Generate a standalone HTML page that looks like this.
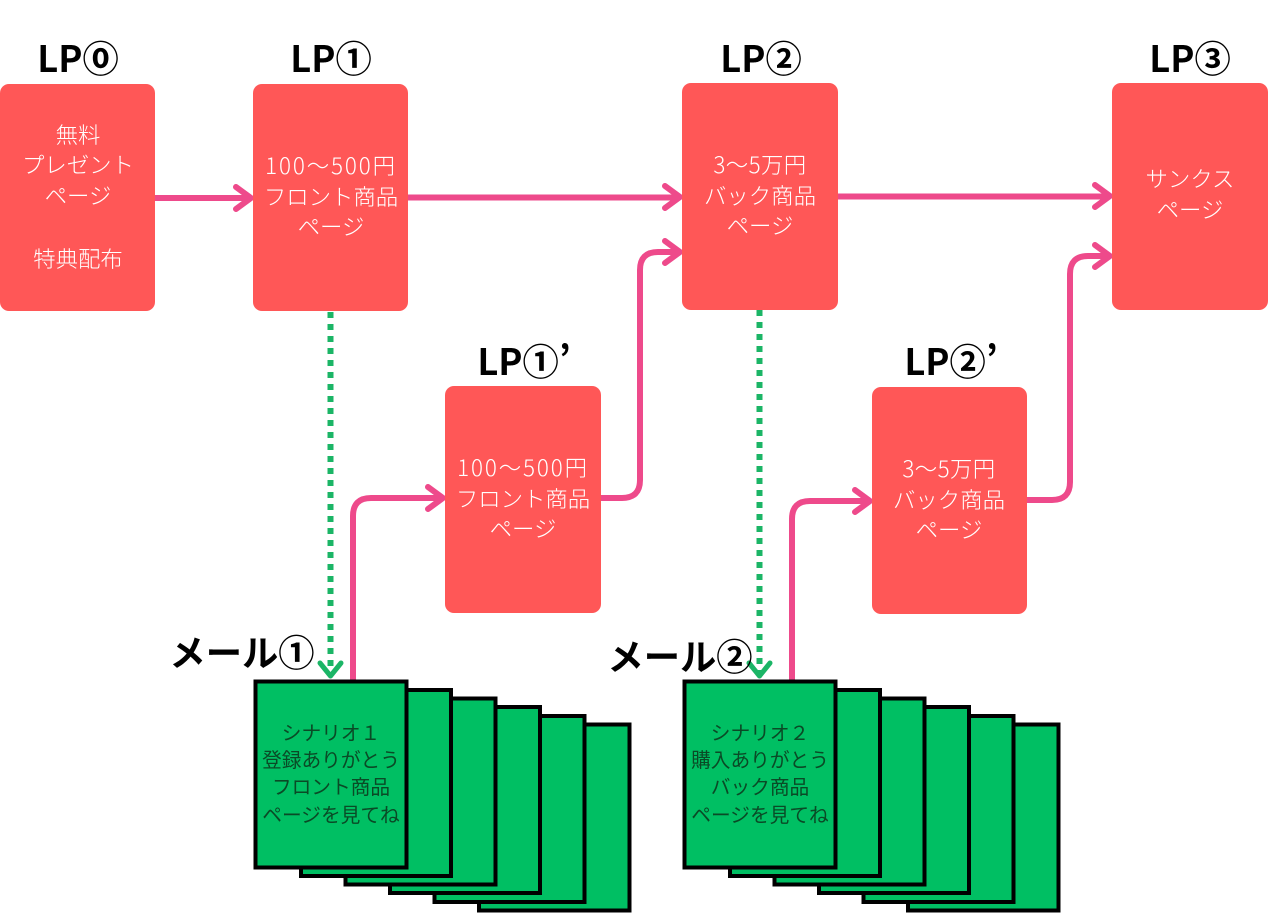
<!DOCTYPE html>
<html lang="ja"><head><meta charset="utf-8"><style>
html,body{margin:0;padding:0;background:#fff;width:1268px;height:914px;overflow:hidden}
svg{display:block}
text{font-family:"Liberation Sans","Noto Sans CJK JP",sans-serif;text-anchor:middle}
.t{font-family:"Noto Sans CJK JP",sans-serif;font-weight:700;font-size:36.300px;fill:#000}
.r{font-family:"Noto Sans CJK JP",sans-serif;font-weight:300;font-size:22.400px;fill:#fff}
.n{letter-spacing:1.900px}
.m{letter-spacing:.4px}
.g{font-family:"Noto Sans CJK JP",sans-serif;font-weight:400;font-size:19.700px;fill:#0a4a26}
.b{fill:#ff5757}
.c{fill:#00bf63;stroke:#000;stroke-width:4}
.p{fill:none;stroke:#ee4a8b;stroke-width:6;stroke-linecap:round;stroke-linejoin:round}
.d{fill:none;stroke:#1bb566;stroke-width:6;stroke-dasharray:6 6}
.a{fill:none;stroke:#1bb566;stroke-width:5;stroke-linecap:round;stroke-linejoin:round}
</style></head><body>
<svg width="1268" height="914" viewBox="0 0 1268 914" xmlns="http://www.w3.org/2000/svg">
<rect width="1268" height="914" fill="#fff"/>

<!-- connectors -->
<path class="p" d="M155 198H250M236 187L251 198L236 209"/>
<path class="p" d="M408 197.500H679M665 186L680 197L665 208"/>
<path class="p" d="M838 196.500H1109M1095 185L1110 196L1095 207"/>
<path class="p" d="M601 498H622Q640 498 640 480V270Q640 252 658 252H679M665 241L680 252L665 263"/>
<path class="p" d="M1027 500H1052Q1070 500 1070 482V274Q1070 256 1088 256H1109M1095 245L1110 256L1095 267"/>
<path class="p" d="M353 680V516Q353 498 371 498H442M428 487L443 498L428 509"/>
<path class="p" d="M792 680V519Q792 501 810 501H869M855 490L870 501L855 512"/>
<path class="d" d="M330.500 312V672"/>
<path class="d" d="M759.500 310V672"/>
<path class="a" d="M320 663L330.500 676L341 663"/>
<path class="a" d="M749 663L759.500 676L770 663"/>

<!-- red boxes -->
<rect class="b" x="0" y="84" width="155" height="227" rx="9"/>
<rect class="b" x="253" y="84" width="155" height="227" rx="9"/>
<rect class="b" x="682" y="83" width="156" height="227" rx="9"/>
<rect class="b" x="1112" y="83" width="156" height="227" rx="9"/>
<rect class="b" x="445" y="386" width="156" height="227" rx="9"/>
<rect class="b" x="872" y="387" width="155" height="227" rx="9"/>

<!-- green stacks -->
<rect class="c" x="479" y="724.500" width="150.500" height="186"/>
<rect class="c" x="434.500" y="716" width="150" height="186"/>
<rect class="c" x="390" y="707" width="150" height="186"/>
<rect class="c" x="345.500" y="698.500" width="150" height="186"/>
<rect class="c" x="301" y="690" width="150" height="186"/>
<rect class="c" x="255.500" y="681.500" width="151" height="186"/>

<rect class="c" x="908" y="724.500" width="150.500" height="186"/>
<rect class="c" x="863.500" y="716" width="150" height="186"/>
<rect class="c" x="819" y="707" width="150" height="186"/>
<rect class="c" x="774.500" y="698.500" width="150" height="186"/>
<rect class="c" x="730" y="690" width="150" height="186"/>
<rect class="c" x="684.500" y="681.500" width="151" height="186"/>

<!-- titles -->
<text class="t" x="78" y="72">LP⓪</text>
<text class="t" x="331" y="72">LP①</text>
<text class="t" x="761" y="72">LP②</text>
<text class="t" x="1190" y="72">LP③</text>
<text class="t" x="524" y="375">LP①’</text>
<text class="t" x="951" y="375">LP②’</text>
<text class="t" x="242" y="666">メール①</text>
<text class="t" x="680" y="670">メール②</text>

<!-- red text -->
<text class="r" x="78" y="143">無料</text>
<text class="r" x="78" y="173">プレゼント</text>
<text class="r" x="78" y="204">ページ</text>
<text class="r" x="78" y="267">特典配布</text>

<text class="r n" x="331" y="174">100〜500円</text>
<text class="r" x="331" y="205">フロント商品</text>
<text class="r" x="331" y="235">ページ</text>

<text class="r m" x="760" y="173">3〜5万円</text>
<text class="r" x="760" y="204">バック商品</text>
<text class="r" x="760" y="234">ページ</text>

<text class="r" x="1190" y="187">サンクス</text>
<text class="r" x="1190" y="218">ページ</text>

<text class="r n" x="523" y="476">100〜500円</text>
<text class="r" x="523" y="507">フロント商品</text>
<text class="r" x="523" y="537">ページ</text>

<text class="r m" x="949" y="477">3〜5万円</text>
<text class="r" x="949" y="508">バック商品</text>
<text class="r" x="949" y="538">ページ</text>

<!-- green text -->
<text class="g" x="331" y="740">シナリオ１</text>
<text class="g" x="331" y="767">登録ありがとう</text>
<text class="g" x="331" y="794">フロント商品</text>
<text class="g" x="331" y="822">ページを見てね</text>

<text class="g" x="760" y="740">シナリオ２</text>
<text class="g" x="760" y="767">購入ありがとう</text>
<text class="g" x="760" y="794">バック商品</text>
<text class="g" x="760" y="822">ページを見てね</text>
</svg>
</body></html>
